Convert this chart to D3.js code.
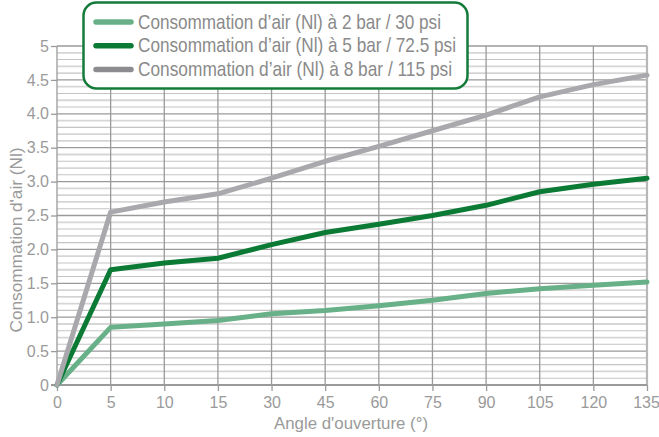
<!DOCTYPE html>
<html><head><meta charset="utf-8">
<script src="https://cdn.jsdelivr.net/npm/d3@7"></script>
<style>
html,body{margin:0;padding:0;background:#fff;}
svg{display:block;}
.tick text{font-family:"Liberation Sans",Arial,sans-serif;}
</style></head>
<body>
<svg id="c" width="659" height="437"></svg>
<script>
const categories = ["0","5","10","15","30","45","60","75","90","105","120","135"];
const bar2 = [0,0.85,0.90,0.95,1.05,1.10,1.17,1.25,1.35,1.42,1.47,1.52];
const bar5 = [0,1.70,1.80,1.87,2.07,2.25,2.37,2.50,2.65,2.85,2.96,3.05];
const bar8 = [0,2.55,2.70,2.82,3.05,3.30,3.52,3.75,3.98,4.25,4.43,4.57];
const seriesNames = ["Consommation d’air (Nl) à 2 bar / 30 psi","Consommation d’air (Nl) à 5 bar / 72.5 psi","Consommation d’air (Nl) à 8 bar / 115 psi"];
const yTicks = [0,0.5,1.0,1.5,2.0,2.5,3.0,3.5,4.0,4.5,5];
const yTickLabels = ["0","0.5","1.0","1.5","2.0","2.5","3.0","3.5","4.0","4.5","5"];
const xTitle = "Angle d'ouverture (°)";
const yTitle = "Consommation d'air (Nl)";

const colors = ["#68b088","#0a7a35","#a9a9ad"];
const legendColors = ["#68b088","#0a7a35","#8c8c90"];
const legendTextWidths = [303,318,314];

const svg = d3.select("#c");
const L=57,R=647,T=46,B=385;
const x = d3.scalePoint().domain(categories).range([L,R]);
const y = d3.scaleLinear().domain([0,5]).range([B,T]);

// minor grid
const minor = d3.range(1,50).filter(i=>i%5!==0).map(i=>i/10);
svg.append("g").selectAll("line").data(minor).join("line")
  .attr("x1",L).attr("x2",R).attr("y1",d=>y(d)).attr("y2",d=>y(d))
  .attr("stroke",(d,i)=>i%2? "#d6d6d6":"#c4c4c4").attr("stroke-width",(d,i)=>i%2?1.8:1.1);
// major grid
svg.append("g").selectAll("line").data(yTicks.filter(d=>d>0)).join("line")
  .attr("x1",L).attr("x2",R).attr("y1",d=>y(d)).attr("y2",d=>y(d))
  .attr("stroke","#9a9a9a").attr("stroke-width",1.3);
// vertical grid
svg.append("g").selectAll("line").data(categories.slice(1)).join("line")
  .attr("x1",d=>x(d)).attr("x2",d=>x(d)).attr("y1",T).attr("y2",B)
  .attr("stroke",(d,i)=>i===categories.length-2?"#b8b8b8":"#9a9a9a")
  .attr("stroke-width",(d,i)=>i===categories.length-2?2.2:1.3);

// axes
const xAxis = d3.axisBottom(x).tickSize(6).tickPadding(3);
const gx = svg.append("g").attr("transform",`translate(0,${B})`).call(xAxis);
gx.select(".domain").attr("stroke","#9a9a9a").attr("stroke-width",2).attr("d",`M${L-6},0H${R}`);
gx.selectAll(".tick line").attr("stroke","#9a9a9a").attr("stroke-width",1.3);
gx.selectAll(".tick text").attr("fill","#9a9a9a").attr("font-size",16).attr("dy","0.85em")
  .attr("dx",(d,i)=>i===categories.length-1?-1:0);

const yAxis = d3.axisLeft(y).tickValues(yTicks).tickFormat((d,i)=>yTickLabels[i]).tickSize(6).tickPadding(2);
const gy = svg.append("g").attr("transform",`translate(${L},0)`).call(yAxis);
gy.select(".domain").attr("stroke","#9a9a9a").attr("stroke-width",1.3).attr("d",`M0,${T}V${B}`);
gy.selectAll(".tick line").attr("stroke","#9a9a9a").attr("stroke-width",1.3);
gy.selectAll(".tick text").attr("fill","#9a9a9a").attr("font-size",16);

// lines
const line = d3.line().x((d,i)=>x(categories[i])).y(d=>y(d));
[bar2,bar5,bar8].forEach((s,k)=>{
  svg.append("path").attr("d",line(s)).attr("fill","none").attr("stroke",colors[k])
    .attr("stroke-width",5).attr("stroke-linejoin","round").attr("stroke-linecap","round");
});

// titles
svg.append("text").attr("x",351).attr("y",429).attr("text-anchor","middle")
  .attr("fill","#9a9a9a").attr("font-size",17).attr("font-family","Liberation Sans, Arial, sans-serif")
  .attr("textLength",154).attr("lengthAdjust","spacingAndGlyphs").text(xTitle);
svg.append("text").attr("transform",`translate(22,240) rotate(-90)`).attr("text-anchor","middle")
  .attr("fill","#9a9a9a").attr("font-size",17).attr("font-family","Liberation Sans, Arial, sans-serif")
  .attr("textLength",185).attr("lengthAdjust","spacingAndGlyphs").text(yTitle);

// legend
const lg = svg.append("g");
lg.append("rect").attr("x",83.5).attr("y",2.5).attr("width",384).attr("height",86).attr("rx",13)
  .attr("fill","#fff").attr("stroke","#137a3a").attr("stroke-width",2.5);
seriesNames.forEach((n,k)=>{
  const yy = 22 + k*23.7;
  lg.append("line").attr("x1",96).attr("x2",131).attr("y1",yy).attr("y2",yy)
    .attr("stroke",legendColors[k]).attr("stroke-width",5.5).attr("stroke-linecap","round");
  lg.append("text").attr("x",138).attr("y",yy+6.5).attr("fill","#8a8a8a")
    .attr("font-family","Liberation Sans, Arial, sans-serif")
    .attr("font-size",21).attr("textLength",legendTextWidths[k]).attr("lengthAdjust","spacingAndGlyphs").text(n);
});
</script>
</body></html>
